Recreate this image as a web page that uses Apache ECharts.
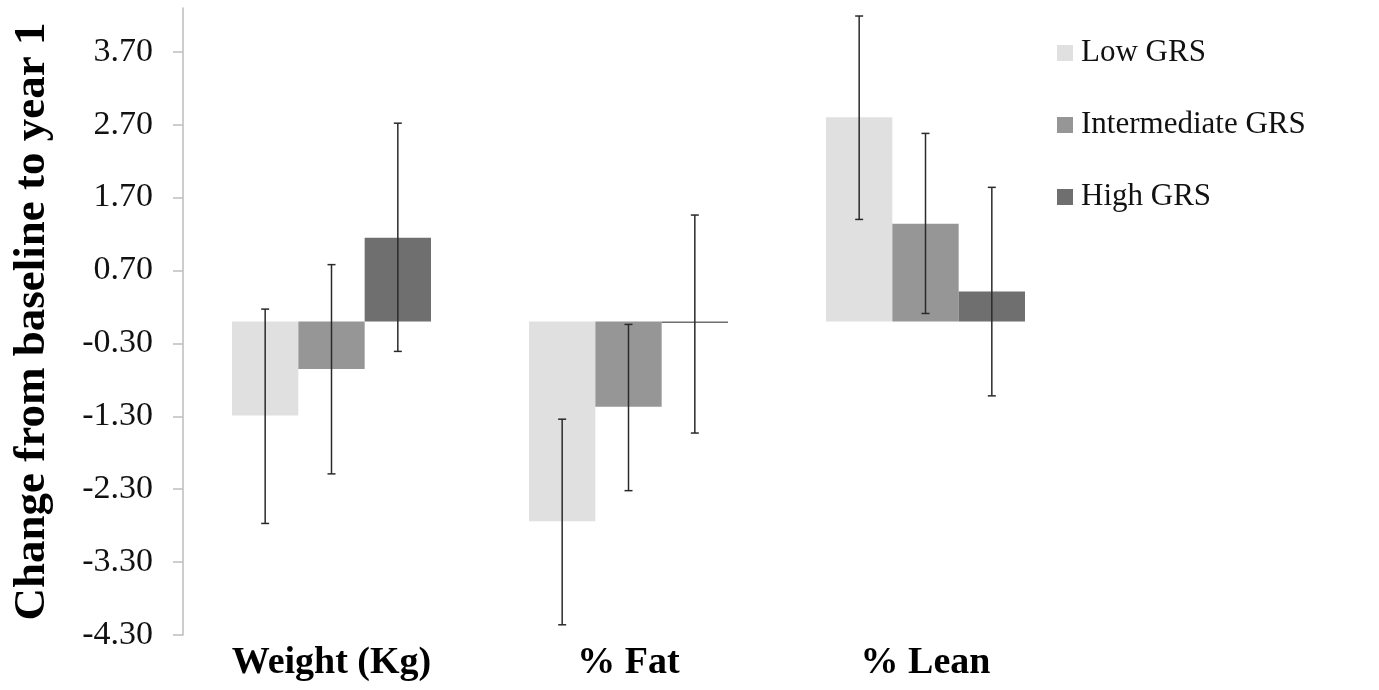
<!DOCTYPE html>
<html>
<head>
<meta charset="utf-8">
<script src="https://cdn.jsdelivr.net/npm/echarts@6/dist/echarts.min.js"></script>
<style>
  html, body { margin: 0; padding: 0; background: #fff; }
  #main { width: 1379px; height: 690px; }
</style>
</head>
<body>
<div id="main"></div>
<script>
var categories = ['Weight (Kg)', '% Fat', '% Lean'];
var seriesNames = ['Low GRS', 'Intermediate GRS', 'High GRS'];
var colors = ['#e0e0e0', '#969696', '#6f6f6f'];

// mean change per group
var lowGRS = [-1.29, -2.74, 2.80];
var intermediateGRS = [-0.65, -1.17, 1.34];
var highGRS = [1.15, -0.02, 0.41];

// error bar bounds (lower, upper)
var lowErrLo = [-2.77, -4.16, 1.40];
var lowErrHi = [0.17, -1.34, 4.19];
var interErrLo = [-2.09, -2.32, 0.11];
var interErrHi = [0.78, -0.04, 2.58];
var highErrLo = [-0.41, -1.53, -1.02];
var highErrHi = [2.72, 1.46, 1.84];

var font = 'Liberation Serif';
var gapRatio = 0.33;

function errData(lo, hi) {
    return categories.map(function (c, i) { return [i, lo[i], hi[i]]; });
}

function errRender(slot) {
    return function (params, api) {
        var cat = api.value(0);
        var pLo = api.coord([cat, api.value(1)]);
        var pHi = api.coord([cat, api.value(2)]);
        var band = api.size([1, 0])[0];
        var bw = band * (1 - gapRatio) / 3;
        var x = pLo[0] + (slot - 1) * bw;
        var cap = 4;
        var st = { stroke: '#2a2a2a', lineWidth: 1.5 };
        return {
            type: 'group',
            children: [
                { type: 'line', shape: { x1: x, y1: pLo[1], x2: x, y2: pHi[1] }, style: st },
                { type: 'line', shape: { x1: x - cap, y1: pLo[1], x2: x + cap, y2: pLo[1] }, style: st },
                { type: 'line', shape: { x1: x - cap, y1: pHi[1], x2: x + cap, y2: pHi[1] }, style: st }
            ]
        };
    };
}

var barValues = [lowGRS, intermediateGRS, highGRS];
var errs = [[lowErrLo, lowErrHi], [interErrLo, interErrHi], [highErrLo, highErrHi]];

var series = [];
barValues.forEach(function (vals, i) {
    series.push({
        name: seriesNames[i],
        type: 'bar',
        barGap: '0%',
        barCategoryGap: (gapRatio * 100) + '%',
        itemStyle: { color: colors[i] },
        data: vals
    });
});
errs.forEach(function (e, i) {
    series.push({
        type: 'custom',
        renderItem: errRender(i),
        data: errData(e[0], e[1]),
        z: 10,
        silent: true
    });
});

var option = {
    animation: false,
    backgroundColor: '#fff',
    grid: { left: 183, right: 305, top: 8, bottom: 55 },
    legend: {
        data: seriesNames,
        orient: 'vertical',
        left: 1057,
        top: 35,
        padding: 0,
        icon: 'rect',
        itemWidth: 16,
        itemHeight: 16,
        itemGap: 36,
        textStyle: { fontFamily: font, fontSize: 31, color: '#111', lineHeight: 36, padding: [0, 0, 0, 3] }
    },
    xAxis: {
        type: 'category',
        data: categories,
        position: 'bottom',
        axisLine: { show: false, onZero: false },
        axisTick: { show: false },
        axisLabel: { fontFamily: font, fontSize: 38, fontWeight: 'bold', color: '#000', margin: 9 }
    },
    yAxis: {
        type: 'value',
        min: -4.3,
        max: 4.3,
        interval: 1,
        name: 'Change from baseline to year 1',
        nameLocation: 'middle',
        nameRotate: 90,
        nameGap: 128,
        nameTextStyle: { fontFamily: font, fontSize: 45, fontWeight: 'bold', color: '#000' },
        splitLine: { show: false },
        axisLine: { show: true, lineStyle: { color: '#bdbdbd', width: 1.5 } },
        axisTick: { show: true, length: 10, lineStyle: { color: '#bdbdbd', width: 1.5 } },
        axisLabel: {
            fontFamily: font, fontSize: 34, color: '#111', margin: 30,
            showMaxLabel: false,
            formatter: function (v) { return v.toFixed(2); }
        }
    },
    series: series
};

var chart = echarts.init(document.getElementById('main'));
chart.setOption(option);
</script>
</body>
</html>
